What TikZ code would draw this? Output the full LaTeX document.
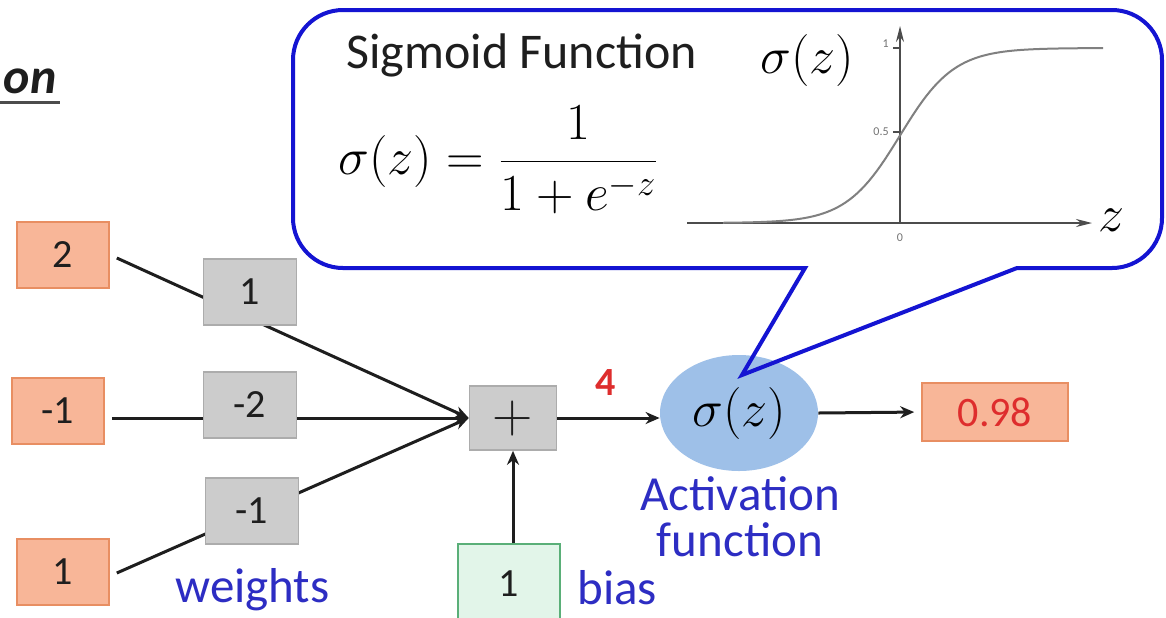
\RequirePackage{fix-cm}
\documentclass[tikz,border=0pt]{standalone}
\usepackage{fontspec}
\setmainfont{Carlito}
\usetikzlibrary{shapes.geometric,arrows.meta,calc}
\definecolor{salfill}{RGB}{248,182,152}
\definecolor{salline}{RGB}{232,142,98}
\definecolor{gfill}{RGB}{204,204,204}
\definecolor{gline}{RGB}{172,172,172}
\definecolor{bfill}{RGB}{226,245,233}
\definecolor{bline}{RGB}{90,175,120}
\definecolor{cfill}{RGB}{158,192,232}
\definecolor{lblue}{RGB}{45,45,195}
\definecolor{cblue}{RGB}{20,20,210}
\definecolor{lred}{RGB}{222,45,45}
\definecolor{ink}{RGB}{30,30,30}
\begin{document}
\begin{tikzpicture}[x=0.5pt,y=-0.5pt,
  box/.style={minimum height=33pt, inner sep=0pt, line width=0.8pt, font=\fontsize{20}{24}\selectfont, text=ink},
  inbox/.style={box, draw=salline, fill=salfill, minimum width=46pt},
  wbox/.style={box, draw=gline, fill=gfill, minimum width=46.5pt},
  conn/.style={line width=1.5pt, draw=ink},
  arr/.style={conn, -{Stealth[length=7pt,width=6pt]}},
  lbl/.style={text=lblue, font=\fontsize{24.5}{23}\selectfont},
  axis/.style={line width=1pt, draw=black!70},
  tiny/.style={text=black!55, font=\fontsize{6}{7}\selectfont, inner sep=1pt}]
\fill[white] (0,0) rectangle (1166,617);
\useasboundingbox (0,0) rectangle (1166,617);

% title fragment
\node[anchor=base east, inner sep=0pt, font=\fontsize{25}{25}\selectfont\bfseries\itshape, text=ink] (ttl) at (57,93) {on};
\draw[line width=1.5pt, black!70] (0,102) -- (60,102);

% inputs
\node[inbox] (x1) at (63,255) {2};
\node[inbox] (x2) at (58,411) {-1};
\node[inbox] (x3) at (63,572) {1};

% sum
\node[box, draw=gline, fill=gfill, minimum width=43.5pt, minimum height=32pt] (sum) at (513,418) {\fontsize{28}{30}\selectfont$+$};

% connectors input -> sum
\draw[arr] ($(x1.east)+(3.5pt,-1.5pt)$) -- (sum.west);
\draw[arr] ($(x2.east|-sum.west)+(3.5pt,0)$) -- (sum.west);
\draw[arr] ($(x3.east)+(3.5pt,-0.5pt)$) -- (sum.west);

% weights
\node[wbox] (w1) at (250,292) {1};
\node[wbox] (w2) at (250,405) {-2};
\node[wbox] (w3) at (252,511) {-1};
\node[lbl, anchor=west, inner sep=0pt] (wl) at (175,590) {weights};

% bias
\node[box, draw=bline, fill=bfill, minimum width=51pt, minimum height=40pt] (bias) at (509,584) {1};
\draw[arr] (sum.south|-bias.north) -- (sum.south);
\node[lbl, anchor=west, inner sep=0pt] (bl) at (577,588) {bias};

% activation
\node[ellipse, fill=cfill, minimum width=79pt, minimum height=58pt, inner sep=0pt] (act) at (739,413) {\fontsize{26}{30}\selectfont$\sigma\bigl(z\bigr)$};
\draw[arr] (sum.east) -- (act.west|-sum.east);
\node[text=lred, font=\fontsize{20}{22}\selectfont\bfseries] (four) at (606,383) {4};
\node[lbl, align=center, inner sep=0pt] (al) at (740,517) {Activation\\function};

% output
\node[box, draw=salline, fill=salfill, minimum width=73pt, minimum height=29pt, text=lred, font=\fontsize{21}{24}\selectfont] (out) at (995,412) {0.98};
\draw[arr, shorten >=3.5pt] (act.east) -- (out.west);

% callout
\draw[line width=2pt, draw=cblue, line join=miter]
  (805,268) -- (343,268) .. controls (315.4,268) and (293,245.6) .. (293,218)
  -- (293,60) .. controls (293,32.4) and (315.4,10) .. (343,10)
  -- (1112,10) .. controls (1139.6,10) and (1162,32.4) .. (1162,60)
  -- (1162,218) .. controls (1162,245.6) and (1139.6,268) .. (1112,268)
  -- (1017,268) -- (742,375) -- cycle;

\node[anchor=west, inner sep=0pt, text=ink, font=\fontsize{25}{26}\selectfont] (sf) at (346,55) {Sigmoid Function};
\node[anchor=west, inner sep=0pt] (formula) at (338,160) {\fontsize{26}{30}\selectfont$\displaystyle\sigma\bigl(z\bigr)=\frac{1}{1+e^{-z}}$};

% sigmoid graph
\draw[axis, -{Stealth[length=8pt,width=4pt]}] (687,223) -- (1092,223);
\draw[axis, -{Stealth[length=8pt,width=4pt]}] (900,223) -- (900,26);
\draw[axis, line width=0.6pt] (893,132) -- (900,132);
\draw[axis, line width=0.6pt] (893,48) -- (900,48);
\draw[line width=1pt, black!50] plot[domain=723:1103, samples=100] (\x,{223-175/(1+exp(-(\x-900)/27))});
\node[tiny] (t0) at (900,238) {0};
\node[tiny, anchor=east] (t05) at (891,132) {0.5};
\node[tiny, anchor=east] (t1) at (891,44) {1};
\node[inner sep=0pt] (zl) at (1111,220) {\fontsize{26}{28}\selectfont$z$};
\node[inner sep=0pt] (glab) at (807,60) {\fontsize{26}{30}\selectfont$\sigma\bigl(z\bigr)$};
\end{tikzpicture}
\end{document}
